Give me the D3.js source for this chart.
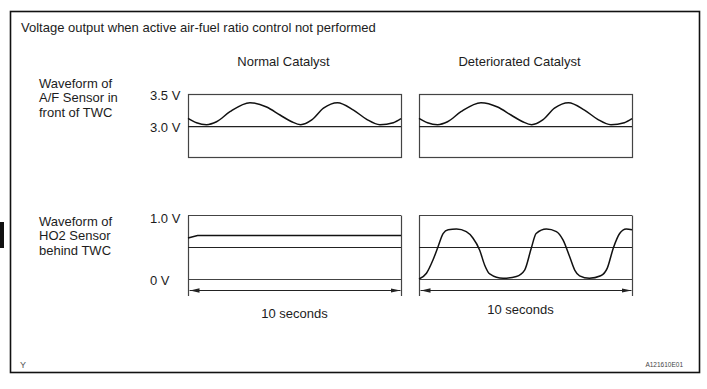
<!DOCTYPE html>
<html>
<head>
<meta charset="utf-8">
<script src="https://cdn.jsdelivr.net/npm/d3@7"></script>
<style>
  html, body { margin: 0; padding: 0; background: #fff; }
  svg { display: block; }
  text { font-family: Arial, "Liberation Sans", sans-serif; fill: #1c1c1c; }
</style>
</head>
<body>
<svg id="chart" width="707" height="389"></svg>
<script>
// ---------- data ----------
const title = "Voltage output when active air-fuel ratio control not performed";
const columns = ["Normal Catalyst", "Deteriorated Catalyst"];
const rowLabels = [
  ["Waveform of", "A/F Sensor in", "front of TWC"],
  ["Waveform of", "HO2 Sensor", "behind TWC"]
];
const afTickValues = [3.5, 3.0];
const afTickLabels = ["3.5 V", "3.0 V"];
const ho2TickValues = [1.0, 0];
const ho2TickLabels = ["1.0 V", "0 V"];
const afReference = 3.0;
const ho2Reference = 0.5;
const durationLabel = "10 seconds";

// A/F sensor waveform (time s, voltage V) - same shape for both catalysts
const afTime   = [0, 0.4, 0.87, 1.34, 1.97, 2.91, 3.69, 4.32, 4.87, 5.29, 5.81, 6.36, 7.02, 7.77, 8.39, 9.01, 9.64, 10];
const afNormal = [3.127, 3.055, 3.023, 3.07, 3.233, 3.38, 3.31, 3.18, 3.07, 3.023, 3.10, 3.29, 3.38, 3.26, 3.11, 3.023, 3.055, 3.12];
const afDeter  = [3.127, 3.055, 3.023, 3.07, 3.233, 3.38, 3.31, 3.18, 3.07, 3.023, 3.10, 3.29, 3.38, 3.26, 3.11, 3.023, 3.055, 3.12];

// HO2 sensor, normal catalyst: nearly flat
const ho2NormalTime  = [0, 0.45, 10];
const ho2NormalValue = [0.64, 0.68, 0.68];

// HO2 sensor, deteriorated catalyst: switching wave
const ho2DeterTime  = [0, 0.35, 0.66, 0.89, 1.13, 1.37, 1.76, 2.22, 2.53, 2.85, 3.08, 3.32, 3.95, 4.57, 4.96, 5.27, 5.5, 5.98, 6.45, 6.76, 7.07, 7.31, 7.54, 8.0, 8.53, 8.84, 9.12, 9.42, 9.73, 10];
const ho2DeterValue = [0.0, 0.09, 0.30, 0.5, 0.71, 0.77, 0.78, 0.74, 0.64, 0.45, 0.22, 0.08, 0.01, 0.04, 0.14, 0.48, 0.71, 0.78, 0.74, 0.61, 0.35, 0.14, 0.05, 0.01, 0.05, 0.17, 0.48, 0.71, 0.78, 0.77];

const footLeft = "Y";
const footRight = "A121610E01";

// ---------- drawing ----------
const svg = d3.select("#chart");
const defs = svg.append("defs");
["start", "end"].forEach(k => {
  defs.append("marker")
    .attr("id", "arrow-" + k)
    .attr("viewBox", "0 0 10 6")
    .attr("refX", k === "end" ? 10 : 0).attr("refY", 3)
    .attr("markerWidth", 10).attr("markerHeight", 6)
    .attr("markerUnits", "userSpaceOnUse")
    .attr("orient", "auto")
    .append("path")
    .attr("d", k === "end" ? "M0,0.8 L10,3 L0,5.2 Z" : "M10,0.8 L0,3 L10,5.2 Z")
    .attr("fill", "#222");
});

// outer frame
svg.append("rect").attr("x", 10.5).attr("y", 11.5).attr("width", 689).attr("height", 361)
  .attr("fill", "none").attr("stroke", "#111").attr("stroke-width", 1.6);
// side tab
svg.append("rect").attr("x", 0).attr("y", 222).attr("width", 4).attr("height", 26).attr("fill", "#111");

svg.append("text").attr("x", 21).attr("y", 27).attr("dy", "0.35em")
  .style("font-size", "13px").text(title);

const panelX = [[188, 401], [419, 632]];
const xScales = panelX.map(r => d3.scaleLinear().domain([0, 10]).range(r));

columns.forEach((c, i) => {
  svg.append("text").attr("x", (panelX[i][0] + panelX[i][1]) / 2 + (i === 0 ? -11 : -6))
    .attr("y", 61).attr("dy", "0.35em").attr("text-anchor", "middle")
    .style("font-size", "13px").text(c);
});

// row labels
const rowY = [83, 221];
rowLabels.forEach((lines, r) => {
  lines.forEach((l, j) => {
    svg.append("text").attr("x", 39).attr("y", rowY[r] + j * 14.8).attr("dy", "0.35em")
      .style("font-size", "13px").text(l);
  });
});

// scales
const yAF = d3.scaleLinear().domain([2.5, 3.52]).range([157, 94]);
const yHO2 = d3.scaleLinear().domain([0, 1.0]).range([279, 215]);

// tick labels
afTickValues.forEach((v, i) => {
  svg.append("text").attr("x", 150).attr("y", yAF(v) + (i === 0 ? 0 : 1)).attr("dy", "0.35em")
    .style("font-size", "13px").text(afTickLabels[i]);
});
ho2TickValues.forEach((v, i) => {
  svg.append("text").attr("x", 150).attr("y", yHO2(v) + (i === 0 ? 3 : 1)).attr("dy", "0.35em")
    .style("font-size", "13px").text(ho2TickLabels[i]);
});

const boxStroke = "#444";
const lineGen = (xs, ys, curve) => d3.line().x(d => xs(d[0])).y(d => ys(d[1])).curve(curve);

// top panels
const afSeries = [afNormal, afDeter];
xScales.forEach((xs, i) => {
  const g = svg.append("g");
  g.append("rect").attr("x", xs(0) + 0.5).attr("y", yAF(3.52) + 0.5)
    .attr("width", xs(10) - xs(0)).attr("height", yAF(2.5) - yAF(3.52))
    .attr("fill", "none").attr("stroke", boxStroke).attr("stroke-width", 1.2);
  g.append("line").attr("x1", xs(0)).attr("x2", xs(10))
    .attr("y1", yAF(afReference) + 0.5).attr("y2", yAF(afReference) + 0.5)
    .attr("stroke", "#222").attr("stroke-width", 1.2);
  g.append("path").datum(afTime.map((t, k) => [t, afSeries[i][k]]))
    .attr("d", lineGen(xs, yAF, d3.curveMonotoneX))
    .attr("fill", "none").attr("stroke", "#111").attr("stroke-width", 1.5);
});

// bottom panels
const ho2Series = [
  ho2NormalTime.map((t, k) => [t, ho2NormalValue[k]]),
  ho2DeterTime.map((t, k) => [t, ho2DeterValue[k]])
];
const ho2Curves = [d3.curveLinear, d3.curveMonotoneX];
const arrowY = 290;
const labelY = [313, 309];
xScales.forEach((xs, i) => {
  const g = svg.append("g");
  const top = yHO2(1.0) + 0.5, bot = yHO2(0) + 0.5;
  g.append("line").attr("x1", xs(0)).attr("x2", xs(10)).attr("y1", top).attr("y2", top)
    .attr("stroke", boxStroke).attr("stroke-width", 1.2);
  g.append("line").attr("x1", xs(0)).attr("x2", xs(10)).attr("y1", bot).attr("y2", bot)
    .attr("stroke", boxStroke).attr("stroke-width", 1.2);
  [0, 10].forEach(t => {
    g.append("line").attr("x1", xs(t) + 0.5).attr("x2", xs(t) + 0.5).attr("y1", top).attr("y2", 296)
      .attr("stroke", boxStroke).attr("stroke-width", 1.2);
  });
  g.append("line").attr("x1", xs(0)).attr("x2", xs(10))
    .attr("y1", yHO2(ho2Reference) + 0.5).attr("y2", yHO2(ho2Reference) + 0.5)
    .attr("stroke", "#222").attr("stroke-width", 1.2);
  g.append("path").datum(ho2Series[i])
    .attr("d", lineGen(xs, yHO2, ho2Curves[i]))
    .attr("fill", "none").attr("stroke", "#111").attr("stroke-width", 1.5);
  // duration arrow
  g.append("line").attr("x1", xs(0) + 1.5).attr("x2", xs(10) - 0.5)
    .attr("y1", arrowY + 0.5).attr("y2", arrowY + 0.5)
    .attr("stroke", "#222").attr("stroke-width", 1)
    .attr("marker-start", "url(#arrow-start)").attr("marker-end", "url(#arrow-end)");
  g.append("text").attr("x", (xs(0) + xs(10)) / 2 + (i === 0 ? 0 : -5)).attr("y", labelY[i]).attr("dy", "0.35em")
    .attr("text-anchor", "middle").style("font-size", "13px").text(durationLabel);
});

svg.append("text").attr("x", 20).attr("y", 365).attr("dy", "0.35em")
  .style("font-size", "9px").style("fill", "#555").text(footLeft);
svg.append("text").attr("x", 683).attr("y", 365).attr("dy", "0.35em").attr("text-anchor", "end")
  .style("font-size", "6.5px").style("fill", "#444").text(footRight);
</script>
</body>
</html>
